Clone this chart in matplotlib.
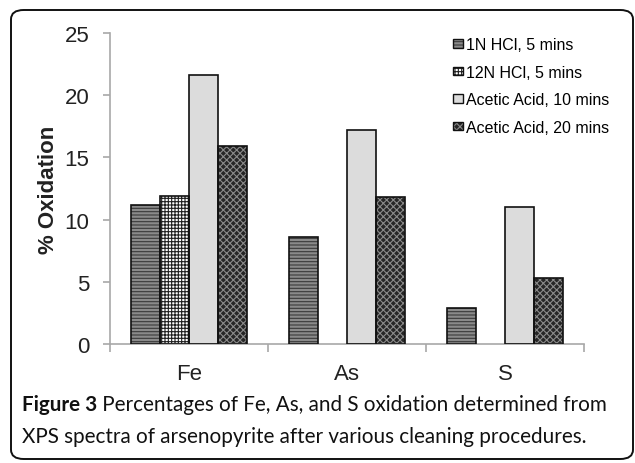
import numpy as np
import matplotlib
matplotlib.use("Agg")
import matplotlib.pyplot as plt
from matplotlib.patches import Patch, FancyBboxPatch
from matplotlib.legend_handler import HandlerTuple

# data
elements = ["Fe", "As", "S"]
hcl_1n = [11.2, 8.6, 2.9]
hcl_12n = [11.9, 0, 0]
acetic_10 = [21.6, 17.2, 11.0]
acetic_20 = [15.9, 11.8, 5.3]
series_names = ["1N HCl, 5 mins", "12N HCl, 5 mins",
                "Acetic Acid, 10 mins", "Acetic Acid, 20 mins"]

plt.rcParams["font.family"] = ["Liberation Sans", "DejaVu Sans"]
plt.rcParams["hatch.linewidth"] = 0.8

# (face, hatch, hatch colour)
styles = [("#8a8a8a", "-----", "#3a3a3a"),
          ("white", "+++++", "#202020"),
          ("#dcdcdc", "", "#dcdcdc"),
          ("#262626", "xxxxx", "#8a8a8a")]

fig = plt.figure(figsize=(6.35, 4.64), dpi=100)
ax = fig.add_axes([0.1732, 0.2565, 0.7465, 0.6702])

x = np.arange(len(elements))
w = 0.183
handles = []
for i, vals in enumerate([hcl_1n, hcl_12n, acetic_10, acetic_20]):
    face, hatch, hcol = styles[i]
    pos = x + (i - 1.5) * w
    vals = np.array(vals, dtype=float)
    keep = vals > 0
    ax.bar(pos[keep], vals[keep], w, color=face, hatch=hatch,
           edgecolor=hcol, linewidth=0, zorder=2)
    ax.bar(pos[keep], vals[keep], w, fill=False, edgecolor="#111111",
           linewidth=1.2, zorder=3)
    h1 = Patch(facecolor=face, hatch=hatch, edgecolor=hcol, linewidth=0)
    h2 = Patch(fill=False, edgecolor="#111111", linewidth=1.0)
    handles.append((h1, h2))

ax.set_xlim(-0.5, 2.5)
ax.set_ylim(0, 25)
ax.set_yticks([0, 5, 10, 15, 20, 25])
ax.set_xticks(x)
ax.set_xticklabels(elements)
ax.set_xticks([-0.5, 0.5, 1.5, 2.5], minor=True)

for s in ["top", "right"]:
    ax.spines[s].set_visible(False)
for s in ["left", "bottom"]:
    ax.spines[s].set_color("#a8a8a8")
    ax.spines[s].set_linewidth(1.2)

ax.tick_params(axis="y", direction="out", length=5, width=1.2, color="#a8a8a8",
               labelsize=16, pad=10, labelcolor="#222222")
ax.tick_params(axis="x", which="major", length=0, labelsize=16, pad=14,
               labelcolor="#222222")
ax.tick_params(axis="x", which="minor", direction="out", length=6, width=1.2,
               color="#a8a8a8")

ax.set_ylabel("% Oxidation", fontsize=16, fontweight="bold", color="#222222")
ax.yaxis.set_label_coords(-0.108, 0.5)

ax.legend(handles, series_names, handler_map={tuple: HandlerTuple(ndivide=1, pad=0)},
          loc="upper left", bbox_to_anchor=(0.704, 0.931),
          bbox_transform=fig.transFigure, frameon=False, fontsize=11.5,
          handlelength=0.6, handleheight=0.45, handletextpad=0.2,
          labelspacing=0.78, borderaxespad=0)

# rounded frame around the whole figure
frame = FancyBboxPatch((11 / 635, 4 / 464), 622 / 635, 449 / 464,
                       boxstyle="round,pad=0,rounding_size=0.02",
                       transform=fig.transFigure, fill=False,
                       edgecolor="#111111", linewidth=1.4)
fig.patches.append(frame)

cap_font = ["Lato", "DejaVu Sans"]
cap_size = 14.9
t = fig.text(22 / 635, 1 - 411 / 464, "Figure 3", fontsize=cap_size, fontweight="bold",
             family=cap_font, color="#111111")
ax.annotate(" Percentages of Fe, As, and S oxidation determined from",
            xy=(1, 0), xycoords=t, fontsize=cap_size, family=cap_font,
            color="#111111", va="bottom", ha="left")
fig.text(22 / 635, 1 - 443 / 464,
         "XPS spectra of arsenopyrite after various cleaning procedures.",
         fontsize=cap_size, family=cap_font, color="#111111")

fig.savefig("out.png", dpi=100)
